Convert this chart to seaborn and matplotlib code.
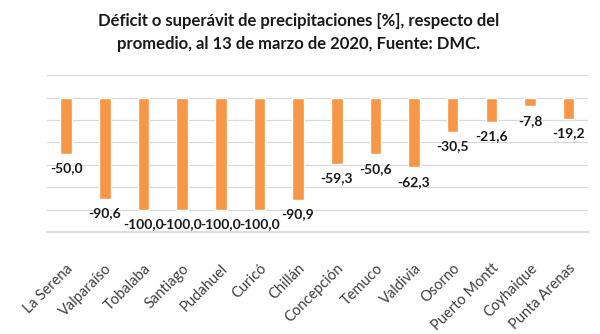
import matplotlib
matplotlib.use("Agg")
import matplotlib.pyplot as plt
import seaborn as sns
import pandas as pd

stations = ["La Serena", "Valparaíso", "Tobalaba", "Santiago", "Pudahuel", "Curicó",
            "Chillán", "Concepción", "Temuco", "Valdivia", "Osorno", "Puerto Montt",
            "Coyhaique", "Punta Arenas"]
values = [-50.0, -90.6, -100.0, -100.0, -100.0, -100.0, -90.9, -59.3, -50.6, -62.3,
          -30.5, -21.6, -7.8, -19.2]
title = "Déficit o superávit de precipitaciones [%], respecto del\npromedio, al 13 de marzo de 2020, Fuente: DMC."

sns.set_theme(style="white")
plt.rcParams['font.family'] = ['Lato', 'DejaVu Sans']

df = pd.DataFrame({"station": stations, "value": values})

fig = plt.figure(figsize=(6, 3.34), dpi=100)
ax = fig.add_axes([0.078, 0.305, 0.902, 0.47])
sns.barplot(data=df, x="station", y="value", color="#F79646", saturation=1,
            width=0.3, ax=ax)

ax.set_ylim(-120, 20)
ax.set_yticks(range(-120, 21, 20))
ax.yaxis.grid(True, color="#D9D9D9", linewidth=0.9)
ax.set_axisbelow(True)
ax.tick_params(axis="y", left=False, labelleft=False)
ax.tick_params(axis="x", bottom=False, pad=15)
for s in ["top", "right", "left"]:
    ax.spines[s].set_visible(False)
ax.spines["bottom"].set_color("#D9D9D9")
ax.set_xlabel("")
ax.set_ylabel("")
ax.set_xticks(range(len(stations)))
ax.set_xticklabels(stations, rotation=45, ha="right", rotation_mode="anchor",
                   fontsize=10.5, color="#404040")

for i, v in enumerate(values):
    ax.annotate(f"{v:.1f}".replace(".", ","), xy=(i, v), xytext=(0, -6),
                textcoords="offset points", ha="center", va="top",
                fontsize=10, fontweight="bold", color="#1a1a1a")

fig.text(0.497, 0.96, title, ha="center", va="top", fontsize=12,
         fontweight="bold", color="#1a1a1a", linespacing=1.5)

fig.savefig("out.png", dpi=100)
